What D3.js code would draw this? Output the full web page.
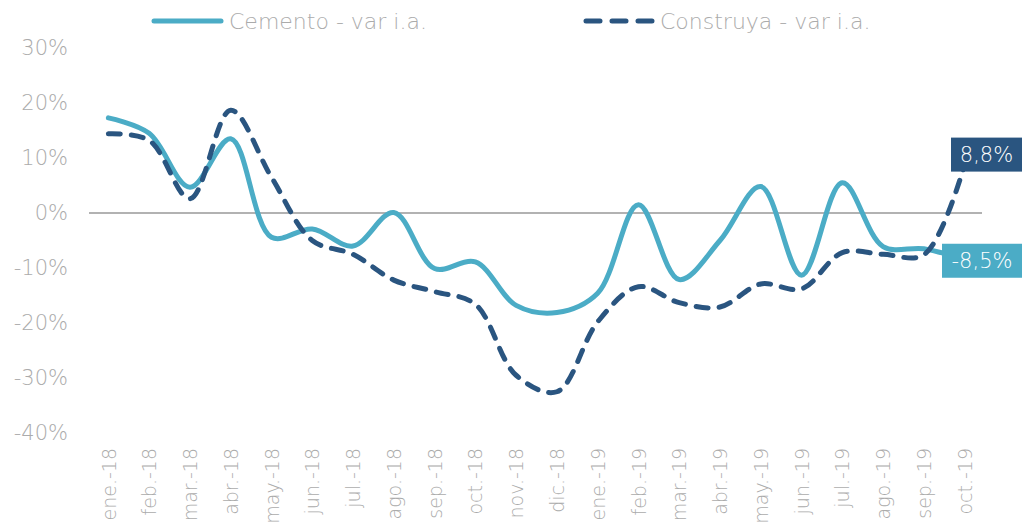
<!DOCTYPE html>
<html><head><meta charset="utf-8">
<script src="https://cdn.jsdelivr.net/npm/d3@7"></script>
<style>
html,body{margin:0;padding:0;background:#fff;}
svg text{font-family:"DejaVu Sans",sans-serif;font-weight:200;}
</style></head>
<body>
<svg id="c" width="1029" height="530"></svg>
<script>
const categories = ["ene.-18","feb.-18","mar.-18","abr.-18","may.-18","jun.-18","jul.-18","ago.-18","sep.-18","oct.-18","nov.-18","dic.-18","ene.-19","feb.-19","mar.-19","abr.-19","may.-19","jun.-19","jul.-19","ago.-19","sep.-19","oct.-19"];
const cemento   = [17.3,14.5,4.7,13.5,-4.4,-2.9,-6.0,0.1,-10.1,-8.9,-16.8,-18.1,-14.6,1.5,-12.1,-5.0,4.8,-11.3,5.5,-6.1,-6.5,-8.5];
const construya = [14.4,13.2,2.6,18.7,6.5,-5.0,-7.5,-12.2,-14.3,-16.6,-29.5,-32.5,-19.8,-13.4,-16.3,-17.1,-12.9,-13.8,-7.2,-7.5,-7.6,8.8];
const yTicks = [30,20,10,0,-10,-20,-30,-40];
const seriesNames = ["Cemento - var i.a.","Construya - var i.a."];
const colors = ["#4BACC6","#2A5580"];
const FONT = '"DejaVu Sans",sans-serif';

const svg = d3.select("#c");
const x = d3.scalePoint().domain(categories).range([88,985]).padding(0.5);
const y = d3.scaleLinear().domain([-40,30]).range([433,48]);
const fmt = v => v.toFixed(1).replace(".",",")+"%";

// y axis labels
const yAxis = d3.axisLeft(y).tickValues(yTicks).tickSize(0).tickPadding(0).tickFormat(d=>d+"%");
const ya = svg.append("g").attr("transform","translate(68,0)").call(yAxis);
ya.select(".domain").remove();
ya.selectAll("text").attr("fill","#ABABAB").style("font-size","21px").style("font-family",FONT).style("font-weight","200");

// zero line
svg.append("line").attr("x1",89).attr("x2",982).attr("y1",y(0)).attr("y2",y(0))
  .attr("stroke","#999").attr("stroke-width",1.5);

// x axis labels
const xAxis = d3.axisBottom(x).tickSize(0).tickPadding(0);
const xa = svg.append("g").attr("transform","translate(0,448)").call(xAxis);
xa.select(".domain").remove();
xa.selectAll("text").attr("fill","#ABABAB").style("font-size","19px").style("font-family",FONT).style("font-weight","200")
  .attr("text-anchor","end").attr("transform","rotate(-90)").attr("x",0).attr("y",0).attr("dx",0).attr("dy","0.35em");

const line = d3.line().x((d,i)=>x(categories[i])).y(d=>y(d)).curve(d3.curveCatmullRom.alpha(0.5));

svg.append("path").datum(cemento).attr("d",line).attr("fill","none")
  .attr("stroke",colors[0]).attr("stroke-width",5).attr("stroke-linejoin","round").attr("stroke-linecap","round");
svg.append("path").datum(construya).attr("d",line).attr("fill","none")
  .attr("stroke",colors[1]).attr("stroke-width",5).attr("stroke-dasharray","12,11").attr("stroke-linecap","round");

// end labels
const last = categories.length-1;
function endLabel(val,color,x0,x1,cy){
  svg.append("rect").attr("x",x0).attr("y",cy-17).attr("width",x1-x0).attr("height",34).attr("fill",color);
  svg.append("text").attr("x",(x0+x1)/2).attr("y",cy).attr("dy","0.36em").attr("text-anchor","middle")
    .attr("fill","#fff").style("font-size","21px").style("font-family",FONT).style("font-weight","200").text(fmt(val));
}
endLabel(construya[last],colors[1],951,1022,y(construya[last])-10);
endLabel(cemento[last],colors[0],942,1022,y(cemento[last])+1);

// legend
const lg = svg.append("g");
lg.append("line").attr("x1",154).attr("x2",221).attr("y1",21).attr("y2",21).attr("stroke",colors[0]).attr("stroke-width",5).attr("stroke-linecap","round");
lg.append("text").attr("x",229).attr("y",21).attr("dy","0.35em").attr("fill","#ABABAB").style("font-size","22px").text(seriesNames[0]);
lg.append("line").attr("x1",586).attr("x2",655).attr("y1",21).attr("y2",21).attr("stroke",colors[1]).attr("stroke-width",5).attr("stroke-linecap","round").attr("stroke-dasharray","14,12");
lg.append("text").attr("x",660).attr("y",21).attr("dy","0.35em").attr("fill","#ABABAB").style("font-size","22px").text(seriesNames[1]);
</script>
</body></html>
